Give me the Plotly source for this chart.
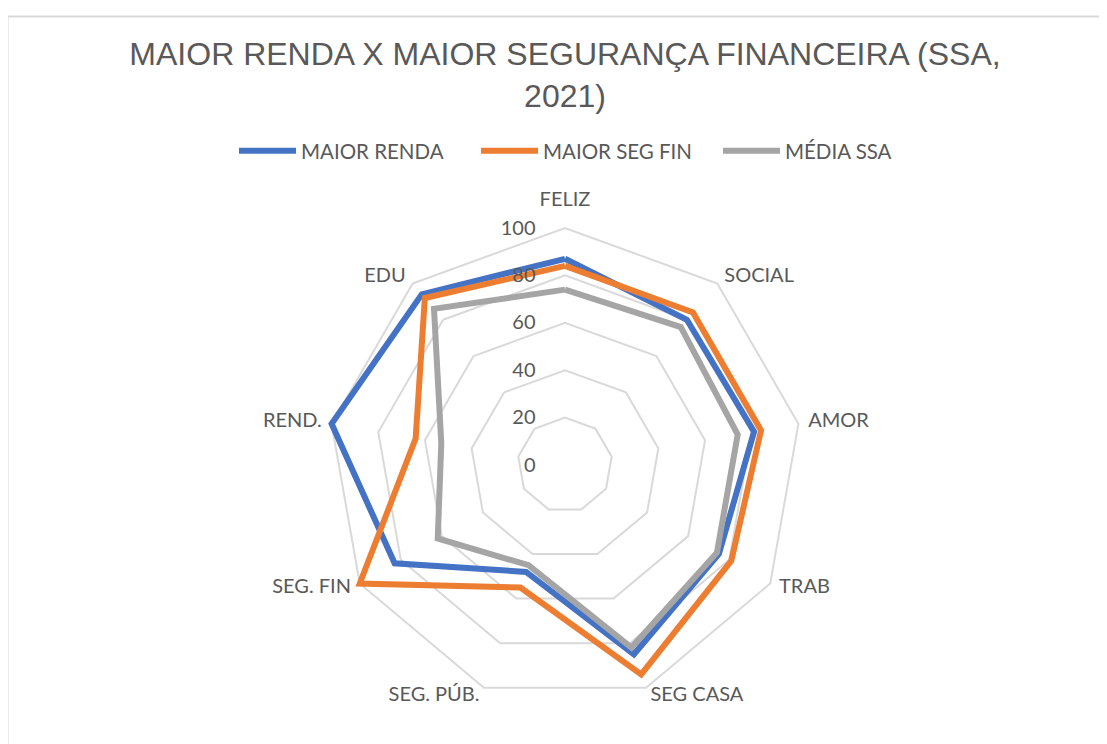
import math
import plotly.graph_objects as go

categories = ["FELIZ", "SOCIAL", "AMOR", "TRAB", "SEG CASA", "SEG. PÚB.", "SEG. FIN", "REND.", "EDU"]
maior_renda = [87, 80, 81, 75, 85, 48, 83, 100, 94]
maior_seg_fin = [84, 84, 84, 81, 94, 55, 100, 64, 92]
media_ssa = [74, 76, 74, 74, 82, 45, 62, 53, 86]
radial_ticks = [0, 20, 40, 60, 80, 100]

series = [
    ("MAIOR RENDA", maior_renda, "#4472C4"),
    ("MAIOR SEG FIN", maior_seg_fin, "#ED7D31"),
    ("MÉDIA SSA", media_ssa, "#A5A5A5"),
]

# the page body adds an 8px margin; positions below are screen pixels
OFF = 8
W, H = 1107 - OFF, 744 - OFF
TXT = "#595959"
GRID = "#D9D9D9"
RMAX = 103.5  # radial extent slightly beyond the 100 ring; labels sit on it


def px(x):
    return (x - OFF) / W


def py(y):
    return 1 - (y - OFF) / H


fig = go.Figure()
for name, vals, color in series:
    fig.add_trace(go.Scatterpolar(
        r=vals + [vals[0]],
        theta=categories + [categories[0]],
        mode="lines",
        name=name,
        line=dict(color=color, width=6),
    ))

# category labels placed like Excel: left of axis right-aligned, right of axis left-aligned
n = len(categories)
positions, pads = [], []
for i in range(n):
    c = math.cos(math.radians(90 - 360 * i / n))
    if abs(c) < 1e-6:
        positions.append("top center")
        pads.append(13)
    elif c > 0:
        positions.append("middle right")
        pads.append(1)
    else:
        positions.append("middle left")
        pads.append(1)

fig.add_trace(go.Scatterpolar(
    r=[RMAX] * n,
    theta=categories,
    mode="markers+text",
    text=categories,
    textposition=positions,
    marker=dict(size=pads, color="rgba(0,0,0,0)"),
    textfont=dict(family="Lato", size=20, color=TXT),
    cliponaxis=False,
    showlegend=False,
    hoverinfo="skip",
))

cx, cy, R100 = 565, 465, 237
R = R100 * RMAX / 100
fig.update_layout(
    width=W, height=H,
    margin=dict(l=0, r=0, t=0, b=0),
    paper_bgcolor="white",
    plot_bgcolor="white",
    font=dict(family="Lato", size=20, color=TXT),
    title=dict(
        text="MAIOR RENDA X MAIOR SEGURANÇA FINANCEIRA (SSA,<br>2021)",
        font=dict(family="Liberation Sans", size=32, color=TXT),
        x=px(565), xanchor="center",
        yref="container", y=py(65), yanchor="top",
    ),
    legend=dict(
        orientation="h",
        x=px(597), xanchor="center",
        y=py(151), yanchor="middle",
        font=dict(family="Lato", size=20.5, color=TXT),
        bgcolor="rgba(0,0,0,0)",
        itemwidth=57,
        entrywidth=170,
    ),
    polar=dict(
        domain=dict(x=[px(cx - R), px(cx + R)], y=[py(cy + R), py(cy - R)]),
        gridshape="linear",
        bgcolor="white",
        angularaxis=dict(
            direction="clockwise",
            rotation=90,
            showgrid=False,
            showline=False,
            ticks="",
            showticklabels=False,
        ),
        radialaxis=dict(
            range=[0, RMAX],
            tickvals=radial_ticks,
            angle=90,
            tickangle=90,
            side="counterclockwise",
            showline=False,
            gridcolor=GRID,
            gridwidth=1.5,
            ticks="outside",
            ticklen=22,
            tickcolor="rgba(0,0,0,0)",
            tickfont=dict(family="Lato", size=20, color=TXT),
        ),
    ),
    shapes=[dict(
        type="rect", xref="paper", yref="paper",
        x0=px(7.5), x1=1.2, y0=-0.2, y1=py(16.5),
        line=dict(color=GRID, width=2), fillcolor="rgba(0,0,0,0)", layer="below",
    )],
)

fig.write_html("out.html")
